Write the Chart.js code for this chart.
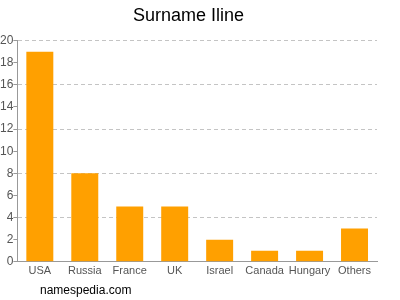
<!DOCTYPE html>
<html>
<head>
<meta charset="utf-8">
<script src="https://cdn.jsdelivr.net/npm/chart.js@4"></script>
<style>
  html, body { margin: 0; padding: 0; background: #fff; }
  #wrap { width: 400px; height: 300px; position: relative; }
</style>
</head>
<body>
<div id="wrap"><canvas id="chart" width="400" height="300"></canvas></div>
<script>
// surname counts by country
const countries = ['USA', 'Russia', 'France', 'UK', 'Israel', 'Canada', 'Hungary', 'Others'];
const counts = [19, 8, 5, 5, 2, 1, 1, 3];
const yTicks = [0, 2, 4, 6, 8, 10, 12, 14, 16, 18, 20];

const footer = {
    id: 'footer',
    afterDraw(chart) {
        const ctx = chart.ctx;
        ctx.save();
        ctx.font = '12px "Liberation Sans", Arial, sans-serif';
        ctx.fillStyle = '#000';
        ctx.textBaseline = 'middle';
        ctx.fillText('namespedia.com', 40, 291);
        ctx.restore();
    }
};

new Chart(document.getElementById('chart'), {
    type: 'bar',
    data: {
        labels: countries,
        datasets: [{
            data: counts,
            backgroundColor: '#ffa000',
            categoryPercentage: 0.6,
            barPercentage: 1
        }]
    },
    options: {
        responsive: false,
        animation: false,
        layout: { padding: { left: 0, right: 23, top: 0, bottom: 19 } },
        plugins: {
            legend: { display: false },
            tooltip: { enabled: false },
            title: {
                display: true,
                text: 'Surname Iline',
                color: '#000',
                font: { family: '"Liberation Sans", Arial, sans-serif', size: 18, weight: 'normal' },
                padding: { top: 5, bottom: 14 }
            }
        },
        scales: {
            x: {
                grid: { display: false, drawTicks: false, tickLength: 0 },
                border: { color: '#999' },
                ticks: { color: '#555', font: { family: '"Liberation Sans", Arial, sans-serif', size: 11 }, padding: 3, maxRotation: 0 }
            },
            y: {
                min: 0,
                max: 20,
                afterBuildTicks: axis => { axis.ticks = yTicks.map(v => ({ value: v })); },
                grid: {
                    color: ctx => (ctx.tick && ctx.tick.value % 4 === 0 && ctx.tick.value !== 0) ? '#c4c4c4' : 'rgba(0,0,0,0)',
                    tickColor: '#999',
                    tickLength: 4
                },
                border: { color: '#999', dash: [4, 3] },
                ticks: { color: '#555', font: { family: '"Liberation Sans", Arial, sans-serif', size: 12 }, padding: 0 }
            }
        }
    },
    plugins: [footer]
});
</script>
</body>
</html>
